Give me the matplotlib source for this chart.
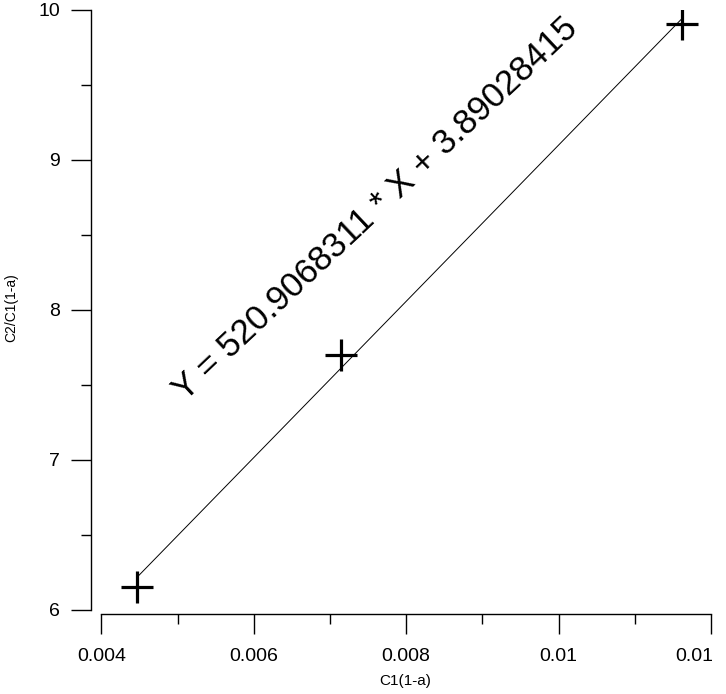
import matplotlib
matplotlib.use("Agg")
import matplotlib.pyplot as plt
import matplotlib.transforms as mtransforms
import numpy as np

# measured points
c1 = [0.004464, 0.007141, 0.011616]
ratio = [6.155, 7.70, 9.905]

# regression given on the chart
slope = 520.9068311
intercept = 3.89028415

x_ticks = [0.004, 0.006, 0.008, 0.010, 0.012]
x_labels = ["0.004", "0.006", "0.008", "0.01", "0.01"]
y_ticks = [6, 7, 8, 9, 10]
y_labels = ["6", "7", "8", "9", "10"]

FONT = ["Liberation Sans", "DejaVu Sans"]


def main():
    plt.rcParams["font.family"] = FONT
    fig = plt.figure(figsize=(7.26, 6.94), dpi=100)
    ax = fig.add_axes([101.3 / 726, 1 - 610 / 694, 609.7 / 726, 600 / 694])

    xs = np.array([c1[0], c1[-1]])
    ax.plot(xs, slope * xs + intercept, color="black", lw=0.7)
    ax.plot(c1, ratio, linestyle="none", marker="+", ms=23, mew=2.3,
            color="black")

    ax.text(0.007604, 8.673, "Y = 520.9068311 * X + 3.89028415",
            fontsize=25, rotation=43.3, rotation_mode="anchor",
            ha="center", va="center")

    ax.set_xlim(0.004, 0.012)
    ax.set_ylim(6, 10)
    ax.set_xticks(x_ticks)
    ax.set_xticklabels(x_labels)
    ax.set_yticks(y_ticks)
    ax.set_yticklabels(y_labels)
    ax.set_xticks(np.arange(0.005, 0.012, 0.002), minor=True)
    ax.set_yticks(np.arange(6.5, 10, 1.0), minor=True)

    for side in ["top", "right"]:
        ax.spines[side].set_visible(False)
    ax.spines["left"].set_position(("outward", 7.2))
    ax.spines["bottom"].set_position(("outward", 3.1))
    for side in ["left", "bottom"]:
        ax.spines[side].set_linewidth(1.0)

    ax.tick_params(which="major", direction="out", length=14.4, width=1.0,
                   labelsize=14)
    ax.tick_params(which="minor", direction="out", length=7.2, width=1.0)
    ax.tick_params(axis="x", which="major", pad=10)
    ax.tick_params(axis="y", which="major", pad=8)

    # last x label sits a bit left of its tick
    last = ax.get_xticklabels()[-1]
    last.set_transform(last.get_transform() + mtransforms.ScaledTranslation(
        -12 / 72, 0, fig.dpi_scale_trans))

    fig.text(405 / 726, 1 - 681 / 694, "C1(1-a)", fontsize=11,
             ha="center", va="center")
    fig.text(11 / 726, 1 - 308 / 694, "C2/C1(1-a)", fontsize=10,
             rotation=90, ha="center", va="center")

    fig.savefig("out.png", dpi=100)


if __name__ == "__main__":
    main()
